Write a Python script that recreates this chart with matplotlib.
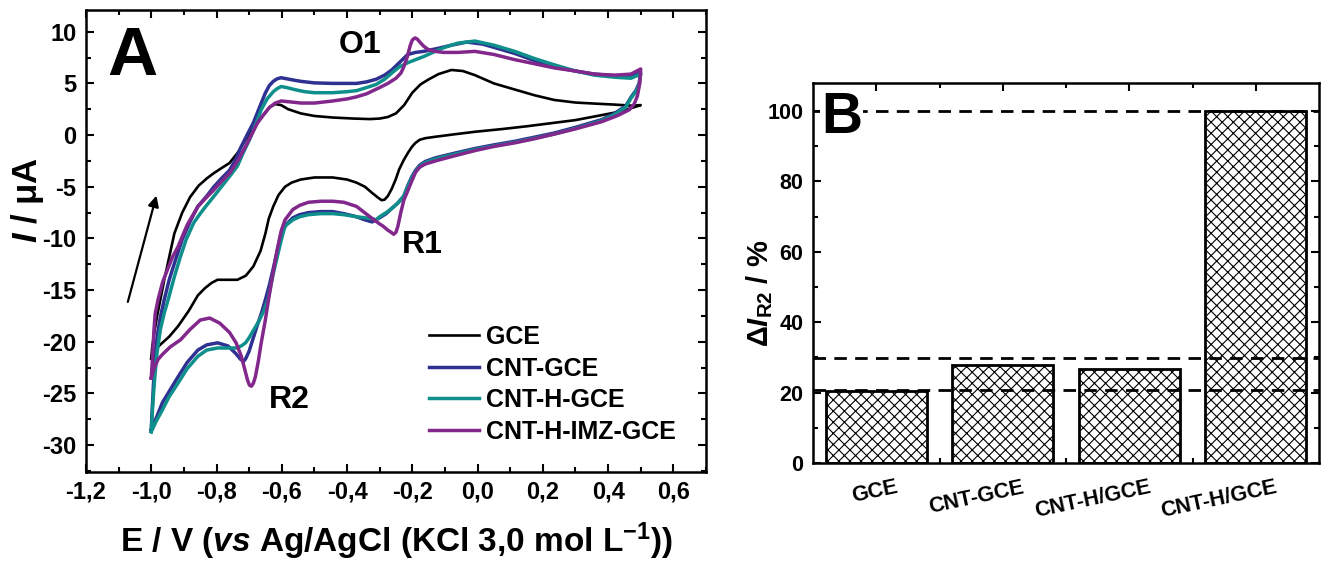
import matplotlib
matplotlib.use("Agg")
import matplotlib.pyplot as plt
from matplotlib.ticker import MultipleLocator, FuncFormatter, FixedLocator
from matplotlib.transforms import ScaledTranslation

plt.rcParams["font.family"] = ["Liberation Sans", "DejaVu Sans"]
plt.rcParams["font.weight"] = "bold"
plt.rcParams["axes.labelweight"] = "bold"
plt.rcParams["axes.unicode_minus"] = False
plt.rcParams["mathtext.fontset"] = "custom"
plt.rcParams["mathtext.rm"] = "Liberation Sans:bold"
plt.rcParams["mathtext.it"] = "Liberation Sans:italic:bold"
plt.rcParams["mathtext.bf"] = "Liberation Sans:bold"
plt.rcParams["hatch.linewidth"] = 0.8

# ---- panel A: cyclic voltammograms, (E / V, I / uA), forward scan then reverse
gce = [
    (-1.000, -21.6), (-0.997, -20.5), (-0.990, -19.0), (-0.982, -17.5), (-0.972, -15.9),
    (-0.960, -14.0), (-0.945, -11.8), (-0.929, -9.5), (-0.905, -7.5), (-0.881, -6.0),
    (-0.855, -4.9), (-0.830, -4.2), (-0.809, -3.7), (-0.785, -3.2), (-0.760, -2.7),
    (-0.735, -1.7), (-0.711, -0.45), (-0.690, 0.5), (-0.674, 1.2), (-0.655, 2.0),
    (-0.637, 2.7), (-0.620, 3.0), (-0.602, 2.9), (-0.580, 2.5), (-0.542, 2.1),
    (-0.500, 1.85), (-0.444, 1.7), (-0.380, 1.6), (-0.330, 1.55), (-0.300, 1.6),
    (-0.275, 1.75), (-0.250, 2.1), (-0.225, 2.9), (-0.200, 4.1), (-0.175, 4.9),
    (-0.152, 5.35), (-0.120, 5.9), (-0.080, 6.3), (-0.045, 6.2), (-0.008, 5.8),
    (0.050, 5.0), (0.115, 4.4), (0.175, 3.85), (0.235, 3.4), (0.300, 3.15),
    (0.358, 3.05), (0.420, 2.95), (0.470, 2.85), (0.500, 2.9),
    (0.480, 2.7), (0.454, 2.45), (0.418, 2.16), (0.350, 1.75), (0.300, 1.45),
    (0.235, 1.19), (0.150, 0.85), (0.080, 0.6), (-0.008, 0.32), (-0.070, 0.08),
    (-0.129, -0.16), (-0.160, -0.3), (-0.177, -0.45), (-0.190, -0.75), (-0.201, -1.13),
    (-0.213, -1.7), (-0.226, -2.4), (-0.240, -3.3), (-0.251, -4.3), (-0.263, -5.2),
    (-0.275, -5.9), (-0.285, -6.25), (-0.294, -6.3), (-0.305, -6.05), (-0.323, -5.6),
    (-0.345, -5.0), (-0.371, -4.6), (-0.400, -4.3), (-0.444, -4.1), (-0.500, -4.1),
    (-0.542, -4.3), (-0.570, -4.6), (-0.590, -5.0), (-0.610, -5.8), (-0.626, -6.9),
    (-0.640, -8.1), (-0.650, -9.5), (-0.665, -11.2), (-0.687, -12.7), (-0.710, -13.6),
    (-0.736, -14.0), (-0.770, -14.0), (-0.797, -14.0), (-0.815, -14.3), (-0.835, -14.8),
    (-0.857, -15.5), (-0.885, -17.0), (-0.918, -18.5), (-0.945, -19.5), (-0.966, -20.1),
    (-0.990, -20.8), (-1.000, -21.6),
]

cnt_gce = [
    (-1.000, -28.5), (-0.997, -26.5), (-0.993, -24.0), (-0.988, -21.5), (-0.982, -19.5),
    (-0.972, -17.6), (-0.960, -15.9), (-0.945, -14.0), (-0.925, -12.0), (-0.905, -10.1),
    (-0.880, -8.3), (-0.857, -6.9), (-0.830, -5.9), (-0.808, -5.0), (-0.785, -4.2),
    (-0.760, -3.4), (-0.742, -2.4), (-0.724, -1.1), (-0.705, 0.1), (-0.687, 1.2),
    (-0.668, 2.7), (-0.650, 4.1), (-0.638, 4.8), (-0.626, 5.2), (-0.614, 5.45),
    (-0.602, 5.55), (-0.585, 5.45), (-0.560, 5.3), (-0.541, 5.2), (-0.500, 5.05),
    (-0.444, 5.0), (-0.400, 5.0), (-0.371, 5.0), (-0.340, 5.15), (-0.311, 5.4),
    (-0.285, 5.8), (-0.263, 6.3), (-0.240, 7.0), (-0.214, 7.8), (-0.190, 8.0),
    (-0.165, 8.1), (-0.120, 8.4), (-0.080, 8.7), (-0.033, 9.0), (0.016, 8.8),
    (0.060, 8.4), (0.114, 7.9), (0.175, 7.2), (0.235, 6.6), (0.300, 6.2),
    (0.358, 5.9), (0.420, 5.75), (0.470, 5.7), (0.500, 6.0),
    (0.495, 5.0), (0.485, 4.3), (0.471, 3.7), (0.454, 2.8), (0.420, 2.1),
    (0.381, 1.5), (0.300, 0.75), (0.235, 0.2), (0.175, -0.2), (0.114, -0.6),
    (0.050, -0.95), (-0.008, -1.3), (-0.070, -1.75), (-0.129, -2.2), (-0.160, -2.55),
    (-0.177, -2.9), (-0.190, -3.4), (-0.201, -4.0), (-0.214, -4.9), (-0.226, -5.9),
    (-0.245, -6.6), (-0.263, -7.1), (-0.280, -7.6), (-0.300, -8.0), (-0.323, -8.4),
    (-0.345, -8.2), (-0.371, -7.9), (-0.410, -7.6), (-0.444, -7.4), (-0.480, -7.4),
    (-0.518, -7.5), (-0.545, -7.7), (-0.566, -8.0), (-0.585, -8.6), (-0.602, -9.5),
    (-0.614, -11.2), (-0.626, -12.9), (-0.638, -14.5), (-0.650, -15.9), (-0.662, -17.2),
    (-0.675, -18.4), (-0.688, -19.7), (-0.700, -20.9), (-0.710, -21.6), (-0.717, -21.9),
    (-0.726, -21.7), (-0.742, -21.1), (-0.765, -20.4), (-0.797, -20.1), (-0.830, -20.3),
    (-0.857, -20.8), (-0.890, -22.0), (-0.918, -23.4), (-0.945, -24.8), (-0.966, -25.9),
    (-0.985, -27.4), (-1.000, -28.5),
]

cnt_h_gce = [
    (-1.000, -28.7), (-0.997, -27.0), (-0.993, -25.0), (-0.988, -23.0), (-0.982, -21.0),
    (-0.972, -18.8), (-0.960, -17.2), (-0.948, -15.9), (-0.930, -13.8), (-0.912, -11.9),
    (-0.893, -10.1), (-0.870, -8.5), (-0.850, -7.6), (-0.833, -6.9), (-0.810, -6.0),
    (-0.785, -5.0), (-0.760, -4.0), (-0.736, -3.0), (-0.718, -1.7), (-0.699, -0.45),
    (-0.680, 1.0), (-0.663, 2.45), (-0.645, 3.5), (-0.626, 4.2), (-0.614, 4.5),
    (-0.602, 4.7), (-0.585, 4.6), (-0.560, 4.4), (-0.530, 4.2), (-0.500, 4.1),
    (-0.444, 4.1), (-0.400, 4.2), (-0.371, 4.3), (-0.340, 4.6), (-0.311, 4.9),
    (-0.285, 5.4), (-0.263, 6.0), (-0.240, 6.6), (-0.214, 7.0), (-0.190, 7.3),
    (-0.165, 7.6), (-0.130, 8.1), (-0.100, 8.5), (-0.060, 8.9), (-0.008, 9.1),
    (0.050, 8.7), (0.114, 8.1), (0.175, 7.4), (0.235, 6.8), (0.300, 6.2),
    (0.358, 5.8), (0.420, 5.6), (0.470, 5.5), (0.500, 5.9),
    (0.495, 4.8), (0.485, 4.2), (0.471, 3.6), (0.454, 2.7), (0.420, 2.0),
    (0.381, 1.4), (0.300, 0.65), (0.235, 0.1), (0.175, -0.3), (0.114, -0.7),
    (0.050, -1.05), (-0.008, -1.4), (-0.070, -1.85), (-0.129, -2.3), (-0.160, -2.65),
    (-0.177, -3.0), (-0.190, -3.5), (-0.201, -4.1), (-0.214, -5.0), (-0.226, -5.9),
    (-0.245, -6.6), (-0.263, -7.1), (-0.280, -7.5), (-0.300, -7.9), (-0.311, -8.2),
    (-0.323, -8.1), (-0.345, -8.0), (-0.371, -7.9), (-0.410, -7.7), (-0.444, -7.6),
    (-0.480, -7.6), (-0.518, -7.7), (-0.545, -7.9), (-0.566, -8.2), (-0.590, -8.8),
    (-0.602, -10.2), (-0.614, -11.8), (-0.626, -13.4), (-0.642, -15.9), (-0.655, -17.0),
    (-0.670, -18.0), (-0.687, -18.9), (-0.700, -19.6), (-0.711, -20.1), (-0.724, -20.4),
    (-0.740, -20.6), (-0.770, -20.6), (-0.797, -20.6), (-0.830, -20.8), (-0.857, -21.4),
    (-0.890, -22.6), (-0.918, -24.0), (-0.945, -25.3), (-0.966, -26.6), (-0.985, -27.7),
    (-1.000, -28.7),
]

cnt_h_imz_gce = [
    (-1.000, -23.5), (-0.996, -21.5), (-0.992, -19.0), (-0.988, -17.3), (-0.979, -15.9),
    (-0.965, -14.2), (-0.950, -13.0), (-0.935, -11.8), (-0.918, -10.8), (-0.890, -8.7),
    (-0.857, -6.9), (-0.830, -6.0), (-0.808, -5.3), (-0.785, -4.5), (-0.760, -3.7),
    (-0.735, -2.5), (-0.711, -1.1), (-0.690, 0.2), (-0.674, 1.2), (-0.655, 2.0),
    (-0.637, 2.7), (-0.620, 3.1), (-0.602, 3.3), (-0.570, 3.2), (-0.541, 3.1),
    (-0.500, 3.1), (-0.444, 3.3), (-0.400, 3.5), (-0.371, 3.7), (-0.340, 4.0),
    (-0.300, 4.6), (-0.275, 5.0), (-0.250, 5.5), (-0.235, 6.0), (-0.226, 6.6),
    (-0.215, 7.6), (-0.207, 8.6), (-0.200, 9.2), (-0.192, 9.4), (-0.185, 9.3),
    (-0.177, 9.0), (-0.165, 8.6), (-0.152, 8.3), (-0.130, 8.1), (-0.104, 8.0),
    (-0.060, 8.0), (-0.008, 8.1), (0.050, 7.8), (0.114, 7.3), (0.175, 6.9),
    (0.235, 6.5), (0.300, 6.2), (0.358, 5.9), (0.420, 5.8), (0.470, 5.9), (0.500, 6.4),
    (0.497, 5.0), (0.490, 3.8), (0.480, 3.0), (0.465, 2.45), (0.430, 1.9),
    (0.381, 1.3), (0.300, 0.6), (0.235, 0.1), (0.175, -0.35), (0.114, -0.75),
    (0.050, -1.1), (-0.008, -1.5), (-0.070, -2.0), (-0.129, -2.5), (-0.160, -2.8),
    (-0.177, -3.1), (-0.190, -3.6), (-0.201, -4.4), (-0.214, -5.4), (-0.226, -6.3),
    (-0.236, -7.6), (-0.244, -8.8), (-0.250, -9.4), (-0.257, -9.6), (-0.265, -9.4),
    (-0.275, -9.2), (-0.290, -8.8), (-0.300, -8.6), (-0.330, -7.9), (-0.371, -6.9),
    (-0.410, -6.5), (-0.444, -6.4), (-0.480, -6.4), (-0.518, -6.5), (-0.545, -6.8),
    (-0.566, -7.2), (-0.590, -8.2), (-0.602, -9.3), (-0.614, -11.1), (-0.626, -13.2),
    (-0.639, -15.6), (-0.651, -18.0), (-0.663, -20.1), (-0.672, -21.9), (-0.681, -23.4),
    (-0.687, -24.0), (-0.693, -24.3), (-0.699, -24.2), (-0.705, -23.7), (-0.714, -22.6),
    (-0.724, -21.4), (-0.740, -20.1), (-0.760, -19.1), (-0.790, -18.2), (-0.821, -17.7),
    (-0.850, -17.9), (-0.881, -18.8), (-0.910, -19.8), (-0.942, -20.5), (-0.965, -21.2),
    (-0.979, -21.7), (-0.992, -22.6), (-1.000, -23.5),
]

cv_labels = ["GCE", "CNT-GCE", "CNT-H-GCE", "CNT-H-IMZ-GCE"]
cv_colors = ["black", "#2e3192", "#0f8f8b", "#82288c"]
cv_widths = [1.9, 2.5, 2.5, 2.5]

# ---- panel B: relative R2 current
bar_labels = ["GCE", "CNT-GCE", "CNT-H/GCE", "CNT-H/GCE"]
bar_values = [20.4, 27.9, 26.7, 100.0]
ref_levels = [20.8, 29.8, 100.0]


def comma_fmt(v, pos):
    if abs(v) < 1e-9:
        v = 0.0
    return f"{v:.1f}".replace(".", ",")


fig = plt.figure(figsize=(13.25, 5.64), dpi=100)
ax_a = fig.add_axes([0.0649, 0.1631, 0.4679, 0.8191])
ax_b = fig.add_axes([0.6136, 0.1791, 0.3819, 0.6738])

for data, lab, col, lw in zip([gce, cnt_gce, cnt_h_gce, cnt_h_imz_gce],
                              cv_labels, cv_colors, cv_widths):
    e = [p[0] for p in data]
    i = [p[1] for p in data]
    ax_a.plot(e, i, color=col, lw=lw, label=lab, solid_joinstyle="round")

ax_a.set_xlim(-1.2, 0.7)
ax_a.set_ylim(-32.6, 12.1)
ax_a.xaxis.set_major_locator(MultipleLocator(0.2))
ax_a.xaxis.set_minor_locator(MultipleLocator(0.1))
ax_a.yaxis.set_major_locator(MultipleLocator(5))
ax_a.yaxis.set_minor_locator(MultipleLocator(2.5))
ax_a.xaxis.set_major_formatter(FuncFormatter(comma_fmt))
ax_a.yaxis.set_major_formatter(FuncFormatter(lambda v, p: f"{v:g}"))
ax_a.tick_params(which="both", direction="in", top=True, right=True, width=1.5)
ax_a.tick_params(which="major", length=6, labelsize=17, pad=6)
ax_a.tick_params(which="minor", length=3.5)
ax_a.tick_params(axis="y", which="major", pad=7)
for s in ax_a.spines.values():
    s.set_linewidth(1.8)

ax_a.set_xlabel(r"E / V ($\mathit{vs}$ Ag/AgCl (KCl 3,0 mol L$^{\mathrm{-1}}$))",
                fontsize=24, labelpad=12)
fig.text(28 / 1325, 1 - 200 / 564, r"$\mathit{I}$ / μA", rotation=90,
         ha="center", va="center", fontsize=25)

ax_a.annotate("", xy=(-0.982, -5.6), xytext=(-1.074, -16.4),
              arrowprops=dict(arrowstyle="-|>", lw=1.6, color="black", mutation_scale=16))
ax_a.text(-0.426, 7.97, "O1", fontsize=23, ha="left", va="baseline")
ax_a.text(-0.232, -11.4, "R1", fontsize=23, ha="left", va="baseline")
ax_a.text(-0.638, -26.4, "R2", fontsize=23, ha="left", va="baseline")
ax_a.text(0.035, 0.859, "A", transform=ax_a.transAxes, fontsize=50,
          ha="left", va="baseline")

ax_a.legend(loc="upper left", bbox_to_anchor=(0.553, 0.318), frameon=False,
            fontsize=18, handlelength=2.0, handletextpad=0.3, labelspacing=0.3,
            borderaxespad=0, borderpad=0)

# ---- panel B
pos = list(range(1, len(bar_values) + 1))
ax_b.bar(pos, bar_values, width=0.8, color="white", edgecolor="black",
         hatch="xxx", linewidth=2.0, zorder=2)
for lvl in ref_levels:
    ax_b.axhline(lvl, color="black", lw=2.0, dashes=(4.5, 3), zorder=3)

ax_b.set_xlim(0.5, 4.5)
ax_b.set_ylim(0, 108)
ax_b.set_xticks(pos)
ax_b.set_xticklabels(bar_labels)
ax_b.xaxis.set_minor_locator(FixedLocator([1.5, 2.5, 3.5]))
ax_b.yaxis.set_major_locator(MultipleLocator(20))
ax_b.yaxis.set_minor_locator(MultipleLocator(10))
ax_b.tick_params(which="both", direction="in", top=True, right=True, width=1.5)
ax_b.tick_params(which="major", length=6, labelsize=15.5)
ax_b.tick_params(which="minor", length=3.5)
ax_b.tick_params(axis="y", pad=7)
ax_b.tick_params(axis="x", pad=10)
off = ScaledTranslation(19 / 100, 0, fig.dpi_scale_trans)
for lab in ax_b.get_xticklabels():
    lab.set_rotation(12)
    lab.set_ha("right")
    lab.set_rotation_mode("anchor")
    lab.set_transform(lab.get_transform() + off)
for s in ax_b.spines.values():
    s.set_linewidth(1.8)
    s.set_zorder(4)

fig.text(760 / 1325, 1 - 293 / 564, r"Δ$\mathit{I}_{\mathrm{R2}}$ / %", rotation=90,
         ha="center", va="center", fontsize=21)
ax_b.text(0.016, 0.868, "B", transform=ax_b.transAxes, fontsize=41,
          ha="left", va="baseline", zorder=5,
          bbox=dict(facecolor="white", edgecolor="none", pad=1))

fig.savefig("out.png", dpi=100)
